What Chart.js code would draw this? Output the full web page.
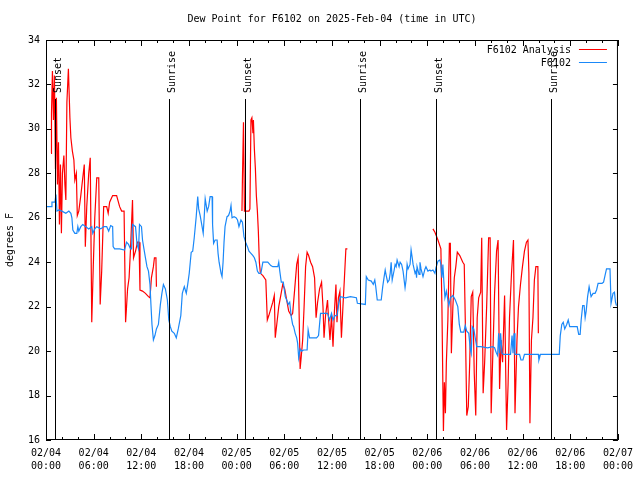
<!DOCTYPE html>
<html>
<head>
<meta charset="utf-8">
<title>Dew Point for F6102</title>
<script src="https://cdn.jsdelivr.net/npm/chart.js@4.4.1/dist/chart.umd.min.js"></script>
<style>
  html, body { margin: 0; padding: 0; background: #fff; }
  canvas { display: block; }
</style>
</head>
<body>
<canvas id="dewChart" width="640" height="480"></canvas>
<script>
const TITLE = "Dew Point for F6102 on 2025-Feb-04 (time in UTC)";
const Y_LABEL = "degrees F";

// x is hours since 02/04 00:00 UTC
const xTickDates = ["02/04", "02/04", "02/04", "02/04", "02/05", "02/05", "02/05",
  "02/05", "02/06", "02/06", "02/06", "02/06", "02/07"];
const xTickTimes = ["00:00", "06:00", "12:00", "18:00", "00:00", "06:00", "12:00",
  "18:00", "00:00", "06:00", "12:00", "18:00", "00:00"];

const sunHours = [1.13, 15.53, 25.1, 39.5, 49.08, 63.55];
const sunLabels = ["Sunset", "Sunrise", "Sunset", "Sunrise", "Sunset", "Sunrise"];

// F6102 Analysis (null = no analysis)
const analysisHours = [
  0.63, 0.69, 0.81, 0.94, 1.06, 1.19, 1.31, 1.44, 1.57, 1.69,
  1.82, 1.94, 2.07, 2.25, 2.38, 2.50, 2.63, 2.82, 3.01, 3.13,
  3.32, 3.51, 3.63, 3.82, 3.94, 4.13, 4.38, 4.63, 4.82, 4.95,
  5.13, 5.38, 5.57, 5.76, 5.95, 6.14, 6.39, 6.64, 6.82, 7.01,
  7.26, 7.64, 7.83, 8.01, 8.39, 8.89, 9.27, 9.52, 9.83, 10.02,
  10.14, 10.27, 10.46, 10.64, 10.89, 11.02, 11.27, 11.52, 11.71, 11.83,
  12.15, 12.52, 12.90, 13.09, 13.27, 13.52, 13.65, 13.84, 13.90,
  19.0,
  24.67, 24.73, 24.86, 24.98, 25.17, 25.55, 25.67, 25.80, 25.92, 26.05,
  26.11, 26.23, 26.36, 26.48, 26.61, 26.73, 26.86, 26.99, 27.30, 27.67,
  27.86, 28.05, 28.30, 28.55, 28.74, 28.86, 29.05, 29.30, 29.55, 29.80,
  30.05, 30.30, 30.55, 30.87, 31.05, 31.31, 31.56, 31.74, 31.99, 32.12,
  32.31, 32.49, 32.68, 32.87, 33.06, 33.31, 33.56, 33.81, 34.00, 34.19,
  34.44, 34.69, 34.87, 35.00, 35.19, 35.44, 35.56, 35.75, 35.94, 36.13,
  36.31, 36.50, 36.63, 36.81, 37.00, 37.19, 37.38, 37.57, 37.75, 37.94,
  43.0,
  48.71, 48.96, 49.34, 49.71, 49.84, 50.03, 50.15, 50.28, 50.40, 50.59,
  50.78, 50.90, 51.03, 51.22, 51.40, 51.59, 51.78, 52.09, 52.47, 52.65,
  52.78, 52.97, 53.16, 53.34, 53.53, 53.72, 53.91, 54.10, 54.28, 54.47,
  54.72, 54.85, 55.03, 55.22, 55.47, 55.72, 55.91, 56.04, 56.22, 56.47,
  56.72, 56.91, 57.10, 57.29, 57.48, 57.73, 57.98, 58.17, 58.35, 58.60,
  58.85, 59.04, 59.29, 59.48, 59.73, 59.98, 60.23, 60.48, 60.67, 60.79,
  60.92, 61.11, 61.30, 61.48, 61.67, 61.92, 61.98,
];
const analysisDew = [
  28.9, 30.7, 32.6, 30.4, 32.4, 28.2, 31.4, 27.5, 29.4, 25.7,
  28.4, 25.3, 28.0, 28.8, 27.5, 26.8, 31.2, 32.7, 30.5, 29.6,
  29.0, 28.6, 27.7, 28.0, 26.1, 26.3, 27.0, 27.8, 28.4, 24.7,
  26.5, 28.0, 28.7, 21.3, 23.8, 26.0, 27.8, 27.8, 22.1, 23.6,
  26.5, 26.5, 26.2, 26.7, 27.0, 27.0, 26.5, 26.3, 26.3, 21.3,
  22.0, 22.8, 23.3, 24.6, 26.8, 24.2, 24.5, 24.9, 24.9, 22.75,
  22.7, 22.6, 22.45, 22.4, 23.3, 23.8, 24.2, 24.2, 22.9,
  null,
  26.3, 27.8, 30.3, 26.3, 26.3, 26.3, 26.4, 30.4, 30.5, 29.8,
  30.4, 29.1, 28.2, 27.0, 26.3, 25.4, 24.0, 23.5, 23.4, 23.2,
  21.4, 21.6, 21.9, 22.2, 22.5, 20.6, 21.2, 22.0, 22.5, 23.0,
  22.8, 22.3, 21.8, 21.6, 21.7, 22.8, 23.9, 24.2, 19.2, 19.7,
  20.5, 22.0, 23.8, 24.45, 24.3, 24.0, 23.8, 23.3, 21.5, 22.2,
  22.8, 23.1, 22.0, 20.6, 21.6, 22.3, 21.5, 20.5, 21.6, 20.2,
  21.8, 23.0, 21.3, 22.4, 22.7, 20.6, 22.0, 23.3, 24.6, 24.6,
  null,
  25.5, 25.35, 25.0, 24.6, 22.0, 16.4, 18.6, 17.2, 19.5, 21.4,
  24.85, 24.85, 19.9, 22.0, 23.3, 23.8, 24.45, 24.3, 24.0, 23.9,
  21.4, 17.1, 17.5, 19.5, 22.45, 22.65, 19.0, 17.1, 21.5, 22.4,
  22.65, 25.1, 18.1, 19.5, 22.0, 25.1, 25.1, 17.2, 19.5, 22.6,
  24.5, 25.0, 18.3, 20.5, 19.5, 22.5, 16.45, 18.5, 21.5, 23.5,
  25.0, 17.2, 20.5, 22.0, 23.0, 23.8, 24.5, 24.9, 25.0, 23.5,
  16.75, 20.5, 21.5, 23.2, 23.8, 23.8, 20.8,
];

// F6102 station observations
const stationHours = [
  0.05, 0.63, 0.75, 1.13, 1.25, 1.38, 1.63, 2.00, 2.50, 2.88,
  3.13, 3.26, 3.38, 3.63, 3.88, 4.01, 4.13, 4.38, 4.63, 5.01,
  5.38, 5.76, 5.89, 6.14, 6.39, 6.89, 7.26, 7.64, 7.89, 8.14,
  8.39, 8.45, 8.64, 9.27, 9.89, 10.14, 10.39, 10.64, 10.77, 10.89,
  11.27, 11.46, 11.65, 11.77, 12.02, 12.15, 12.33, 12.52, 12.71, 12.90,
  13.09, 13.21, 13.34, 13.52, 13.71, 13.90, 14.15, 14.40, 14.59, 14.78,
  15.03, 15.28, 15.46, 15.65, 15.84, 16.15, 16.40, 16.65, 16.97, 17.16,
  17.41, 17.66, 17.84, 18.03, 18.28, 18.47, 18.66, 18.91, 19.10, 19.22,
  19.41, 19.60, 19.79, 19.91, 20.04, 20.29, 20.47, 20.66, 20.91, 20.97,
  21.10, 21.29, 21.54, 21.66, 21.79, 22.04, 22.16, 22.29, 22.41, 22.54,
  22.79, 22.98, 23.17, 23.29, 23.42, 23.67, 23.92, 24.11, 24.29, 24.54,
  24.73, 24.92, 25.17, 25.36, 25.55, 25.80, 26.05, 26.23, 26.42, 26.61,
  26.80, 27.05, 27.30, 27.67, 27.92, 28.30, 28.55, 29.18, 29.30, 29.43,
  29.62, 29.87, 29.99, 30.12, 30.30, 30.49, 30.68, 30.87, 31.05, 31.18,
  31.37, 31.56, 31.68, 31.81, 31.99, 32.18, 32.43, 32.87, 33.00, 33.18,
  33.68, 34.06, 34.31, 34.56, 35.06, 35.44, 35.69, 35.94, 36.13, 36.38,
  36.63, 36.75, 36.88, 37.07, 37.69, 38.32, 39.07, 39.20, 40.20, 40.32,
  40.57, 40.95, 41.20, 41.39, 41.51, 41.70, 42.20, 42.39, 42.57, 42.70,
  42.83, 43.01, 43.20, 43.33, 43.45, 43.58, 43.83, 43.95, 44.08, 44.20,
  44.45, 44.58, 44.77, 44.95, 45.20, 45.33, 45.46, 45.58, 45.83, 45.96,
  46.08, 46.21, 46.46, 46.58, 46.65, 46.71, 46.96, 47.08, 47.21, 47.46,
  47.71, 47.83, 48.08, 48.33, 48.46, 48.71, 48.96, 49.09, 49.34, 49.59,
  49.71, 49.84, 49.96, 50.09, 50.22, 50.40, 50.59, 50.72, 50.90, 51.22,
  51.53, 51.84, 52.03, 52.22, 52.59, 52.78, 52.97, 53.22, 53.41, 53.53,
  53.66, 53.85, 54.03, 54.22, 54.72, 55.60, 56.22, 56.47, 56.66, 56.85,
  56.98, 57.10, 57.23, 57.41, 57.60, 58.48, 58.67, 58.79, 58.92, 59.04,
  59.61, 59.79, 60.04, 60.23, 61.98, 62.05, 62.24, 64.61, 64.74, 64.93,
  65.11, 65.30, 65.55, 65.74, 65.93, 66.87, 67.06, 67.24, 67.37, 67.56,
  67.74, 67.87, 68.00, 68.18, 68.37, 68.62, 68.87, 69.12, 69.31, 69.50,
  70.00, 70.19, 70.37, 70.56, 71.00, 71.13, 71.38, 71.56, 71.69, 71.81,
];
const stationDew = [
  26.5, 26.5, 26.7, 26.7, 27.05, 26.3, 26.35, 26.3, 26.2, 26.3,
  26.2, 26.0, 25.45, 25.3, 25.3, 25.6, 25.4, 25.6, 25.7, 25.6,
  25.5, 25.6, 25.3, 25.5, 25.6, 25.5, 25.6, 25.6, 25.4, 25.65,
  25.6, 24.7, 24.6, 24.6, 24.55, 24.9, 24.8, 24.6, 24.6, 25.7,
  25.6, 24.8, 24.6, 25.7, 25.6, 25.0, 24.6, 24.2, 23.8, 23.6,
  23.0, 22.1, 21.2, 20.5, 20.7, 21.0, 21.2, 22.1, 22.6, 23.0,
  22.8, 22.3, 21.4, 21.1, 20.9, 20.8, 20.6, 21.0, 21.6, 22.6,
  22.9, 22.6, 23.0, 23.5, 24.45, 24.5, 25.1, 26.05, 26.95, 26.4,
  26.1, 25.7, 25.3, 26.0, 26.85, 26.3, 26.5, 26.95, 26.95, 25.7,
  24.85, 25.0, 25.0, 24.4, 24.0, 23.5, 23.35, 24.0, 24.9, 25.6,
  26.05, 26.1, 26.3, 26.55, 26.0, 26.05, 26.0, 25.9, 25.6, 25.9,
  25.8, 25.15, 24.85, 24.7, 24.5, 24.4, 24.3, 24.2, 24.0, 23.6,
  23.5, 23.5, 24.0, 24.0, 24.0, 23.85, 23.8, 23.8, 24.0, 23.6,
  23.1, 23.1, 22.8, 22.45, 22.3, 22.1, 22.2, 21.55, 21.2, 21.1,
  20.8, 20.6, 20.35, 19.7, 20.1, 20.0, 20.05, 20.05, 20.95, 20.6,
  20.6, 20.6, 20.7, 21.7, 21.7, 21.7, 21.4, 21.7, 21.4, 21.6,
  21.6, 21.9, 22.2, 22.45, 22.4, 22.45, 22.4, 22.15, 22.1, 23.35,
  23.2, 23.15, 23.0, 23.2, 22.9, 22.3, 22.3, 22.9, 23.35, 23.65,
  23.4, 23.1, 23.2, 23.5, 24.0, 23.2, 23.65, 23.9, 23.8, 24.1,
  23.8, 24.0, 23.9, 23.6, 22.85, 23.2, 23.9, 23.7, 23.9, 24.55,
  24.25, 23.9, 23.5, 23.6, 23.3, 23.8, 23.45, 24.0, 23.7, 23.35,
  23.7, 23.8, 23.6, 23.65, 23.6, 23.65, 23.5, 23.75, 24.05, 24.1,
  23.9, 23.3, 23.9, 23.1, 22.4, 22.7, 22.3, 22.05, 22.4, 22.5,
  22.3, 22.0, 21.2, 20.85, 20.85, 21.15, 20.9, 20.8, 20.1, 19.9,
  21.1, 21.0, 20.6, 20.2, 20.2, 20.15, 20.2, 20.15, 19.95, 19.8,
  20.8, 19.9, 20.8, 19.9, 19.85, 19.85, 20.7, 19.9, 20.8, 19.85,
  19.85, 19.6, 19.6, 19.85, 19.85, 19.6, 19.85, 19.85, 20.7, 21.2,
  21.3, 21.0, 21.2, 21.4, 21.1, 21.1, 20.75, 20.75, 21.4, 22.05,
  22.05, 21.5, 21.8, 22.45, 22.9, 22.45, 22.6, 22.6, 22.75, 23.05,
  23.05, 23.1, 23.4, 23.7, 23.7, 22.15, 22.6, 22.65, 22.2, 22.05,
];

const toPoints = (hours, values) => hours.map((h, i) => ({ x: h, y: values[i] }));

Chart.defaults.font.family = "'DejaVu Sans Mono', monospace";
Chart.defaults.font.size = 10;
Chart.defaults.color = "#000";

// gnuplot-like frame, inward ticks, sunrise/sunset markers, title and key
const gnuplotDecor = {
  id: "gnuplotDecor",
  beforeDraw(chart) {
    const { ctx, width, height } = chart;
    ctx.save();
    ctx.fillStyle = "#fff";
    ctx.fillRect(0, 0, width, height);
    ctx.restore();
  },
  afterDatasetsDraw(chart) {
    const { ctx, chartArea: a, scales: { x, y } } = chart;
    const font = "10px 'DejaVu Sans Mono', monospace";
    ctx.save();
    ctx.strokeStyle = "#000";
    ctx.fillStyle = "#000";
    ctx.lineWidth = 1;

    // sunrise / sunset lines
    ctx.beginPath();
    sunHours.forEach((h) => {
      const px = Math.round(x.getPixelForValue(h)) + 0.5;
      ctx.moveTo(px, a.top + 59);
      ctx.lineTo(px, a.bottom);
    });
    ctx.stroke();
    ctx.font = font;
    ctx.textAlign = "left";
    ctx.textBaseline = "alphabetic";
    sunHours.forEach((h, i) => {
      const px = Math.round(x.getPixelForValue(h));
      ctx.save();
      ctx.translate(px + 6, a.top + 53);
      ctx.rotate(-Math.PI / 2);
      ctx.fillText(sunLabels[i], 0, 0);
      ctx.restore();
    });

    // frame
    ctx.strokeRect(a.left + 0.5, a.top + 0.5, a.right - a.left - 1, a.bottom - a.top - 1);

    // ticks
    ctx.beginPath();
    for (let h = x.min; h <= x.max; h += 2) {
      const px = Math.round(x.getPixelForValue(h)) + 0.5;
      const len = h % 6 === 0 ? 6 : 3;
      ctx.moveTo(px, a.bottom);
      ctx.lineTo(px, a.bottom - len);
      ctx.moveTo(px, a.top);
      ctx.lineTo(px, a.top + len);
    }
    y.ticks.forEach((t) => {
      const py = Math.round(y.getPixelForValue(t.value)) + 0.5;
      ctx.moveTo(a.left, py);
      ctx.lineTo(a.left + 5, py);
      ctx.moveTo(a.right, py);
      ctx.lineTo(a.right - 5, py);
    });
    ctx.stroke();

    // key
    ctx.textAlign = "right";
    ctx.textBaseline = "middle";
    chart.data.datasets.forEach((ds, i) => {
      const ly = a.top + 9.5 + i * 13;
      ctx.fillStyle = "#000";
      ctx.fillText(ds.label, a.right - 47, ly + 0.5);
      ctx.strokeStyle = ds.borderColor;
      ctx.beginPath();
      ctx.moveTo(a.right - 39, ly);
      ctx.lineTo(a.right - 11, ly);
      ctx.stroke();
    });

    // title
    ctx.fillStyle = "#000";
    ctx.textAlign = "center";
    ctx.fillText(TITLE, (a.left + a.right) / 2, 19.5);
    ctx.restore();
  },
};

new Chart(document.getElementById("dewChart"), {
  type: "line",
  data: {
    datasets: [
      {
        label: "F6102 Analysis",
        data: toPoints(analysisHours, analysisDew),
        borderColor: "#ff0000",
        borderWidth: 1.2,
        pointRadius: 0,
        tension: 0,
        spanGaps: false,
        order: 2,
      },
      {
        label: "F6102",
        data: toPoints(stationHours, stationDew),
        borderColor: "#1a88f8",
        borderWidth: 1.2,
        pointRadius: 0,
        tension: 0,
        order: 1,
      },
    ],
  },
  options: {
    responsive: false,
    animation: false,
    devicePixelRatio: 1,
    layout: { padding: { top: 40, right: 19, left: 0, bottom: 0 } },
    plugins: {
      legend: { display: false },
      tooltip: { enabled: false },
      title: { display: false },
    },
    scales: {
      x: {
        type: "linear",
        min: 0,
        max: 72,
        grid: { display: false, drawTicks: false },
        border: { display: false },
        ticks: {
          stepSize: 6,
          autoSkip: false,
          maxRotation: 0,
          padding: 7,
          font: { lineHeight: 1.3 },
          callback: (value, index) => [xTickDates[index], xTickTimes[index]],
        },
        afterFit: (scale) => {
          scale.height = 40;
        },
      },
      y: {
        min: 16,
        max: 34,
        grid: { display: false, drawTicks: false },
        border: { display: false },
        ticks: { stepSize: 2, padding: 6 },
        title: { display: true, text: Y_LABEL, padding: { top: 4, bottom: 0 } },
        afterFit: (scale) => {
          scale.width = 46;
        },
      },
    },
  },
  plugins: [gnuplotDecor],
});
</script>
</body>
</html>
